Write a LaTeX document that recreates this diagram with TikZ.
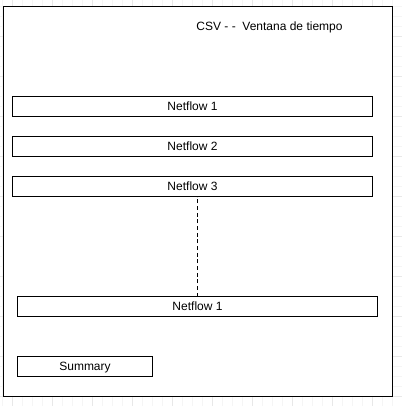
\documentclass[tikz,border=0pt]{standalone}
\usepackage{fontspec}
\setmainfont{Liberation Sans}
\usetikzlibrary{positioning}

\tikzset{
  gridminor/.style={line width=0.5pt, black!4},
  gridmajor/.style={line width=0.5pt, black!9},
  flowbox/.style={draw, rectangle, inner sep=0pt, outer sep=0pt, minimum width=270pt, minimum height=15pt,
    text height=6.5pt, text depth=0pt, font=\fontsize{9}{11}\selectfont},
}

\begin{document}
\begin{tikzpicture}[x=0.75pt,y=-0.75pt,line width=0.75pt]
    % page size and background grid
    \useasboundingbox (0,0) rectangle (402,406);
    \foreach \gx in {2,12,...,402} \draw[gridminor] (\gx,0) -- (\gx,406);
    \foreach \gy in {6,16,...,406} \draw[gridminor] (0,\gy) -- (402,\gy);
    \foreach \gx in {12,52,...,392} \draw[gridmajor] (\gx,0) -- (\gx,406);
    \foreach \gy in {36,76,...,396} \draw[gridmajor] (0,\gy) -- (402,\gy);

    % outer window
    \node (window) [draw, fill=white, inner sep=0pt, anchor=north west, minimum width=292.1pt, minimum height=292.1pt] at (2.5,6.5) {};
    \node (title) [font=\fontsize{9}{11}\selectfont, text height=6.5pt, text depth=0pt] at (269.5,26.5) {CSV - -~ Ventana de tiempo};

    % netflow rows
    \node (nf1) [flowbox, anchor=north west] at (12.5,96.5) {Netflow 1};
    \node (nf2) [flowbox, below=15pt of nf1] {Netflow 2};
    \node (nf3) [flowbox, below=15pt of nf2] {Netflow 3};
    \node (nflast) [flowbox, anchor=north west] at (17.5,296.5) {Netflow 1};

    % dashed gap between rows
    \draw[dashed, line width=0.6pt, dash pattern=on 3pt off 2pt] (nflast.north) -- (nflast.north |- nf3.south);

    \node (summary) [flowbox, anchor=north west, minimum width=101.25pt] at (17.5,356.5) {Summary};
\end{tikzpicture}
\end{document}
